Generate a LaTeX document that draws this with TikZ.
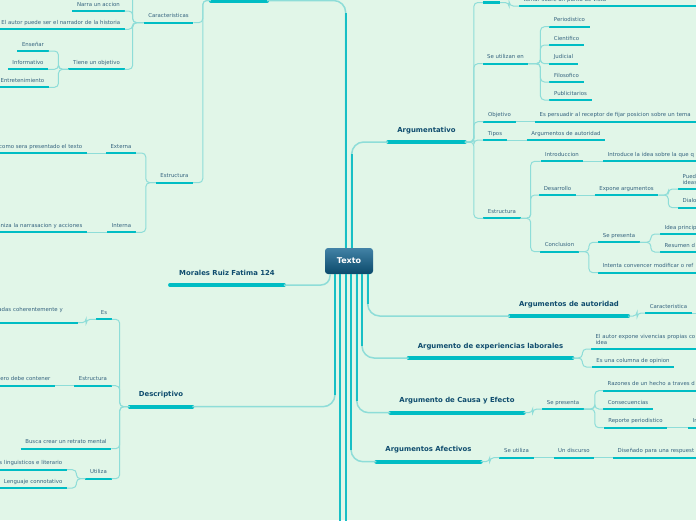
\documentclass[tikz,border=0pt]{standalone}
\usepackage{fontspec}
\setmainfont{DejaVu Sans}
\usetikzlibrary{positioning}
\definecolor{mapbg}{HTML}{E1F6E8}
\definecolor{barcol}{HTML}{00BDC4}
\definecolor{twigcol}{HTML}{8EDDD8}
\definecolor{trunkcol}{HTML}{17BFC5}
\definecolor{leaftxt}{HTML}{35637F}
\definecolor{topictxt}{HTML}{0F4C6E}
\definecolor{hubtop}{HTML}{4282A6}
\definecolor{hubbot}{HTML}{0B4A6B}

\begin{document}
\begin{tikzpicture}[x=1pt, y=-1pt,
    hub/.style={rounded corners=3pt, top color=hubtop, bottom color=hubbot, text=white, font=\fontsize{8}{9}\selectfont\bfseries, minimum width=48pt, minimum height=26pt, inner sep=0pt},
    mainbar/.style={barcol, line width=4pt, line cap=round},
    leafbar/.style={barcol, line width=2.2pt},
    topic/.style={font=\fontsize{6.9}{7.8}\selectfont\bfseries, text=topictxt, anchor=south, inner xsep=9pt, inner ysep=1pt, text height=5pt, text depth=8.8pt, append after command={(\tikzlastnode.south west) edge[mainbar] (\tikzlastnode.south east)}},
    leaf/.style={font=\fontsize{5.4}{6}\selectfont, text=leaftxt, anchor=south, inner xsep=4.5pt, inner ysep=1pt, text height=4pt, text depth=3.8pt, append after command={(\tikzlastnode.south west) edge[leafbar] (\tikzlastnode.south east)}},
    cutr/.style={leaf, anchor=south west, align=left, text width=200pt},
    cutl/.style={leaf, anchor=south east, align=right, text width=200pt},
    twig/.style={twigcol, line width=1pt, rounded corners=4pt},
    trunk/.style={trunkcol, line width=2pt},
    trunkbend/.style={twigcol, line width=1.5pt, rounded corners=12pt}
  ]
  \useasboundingbox (0,0) rectangle (696,520);
  \clip (0,0) rectangle (696,520);
  \fill[mapbg] (0,0) rectangle (696,520);

  \node[hub] (texto) at (349,261) {Texto};

  \node[topic, minimum width=56pt] (narr) at (239,0.5) {};
  \node[topic] (argu) at (426.5,142) {Argumentativo};
  \node[topic] (mor) at (227,285) {Morales Ruiz Fatima 124};
  \node[topic] (desc) at (161,406.7) {Descriptivo};
  \node[topic] (auth) at (569,316) {Argumentos de autoridad};
  \node[topic] (expl) at (490.5,358) {Argumento de experiencias laborales};
  \node[topic] (caus) at (457,412.7) {Argumento de Causa y Efecto};
  \node[topic] (afec) at (428.5,461.7) {Argumentos Afectivos};

  \node[leaf, minimum width=17pt] (pre) at (491.5,2.5) {};
  \node[cutr] (punto) at (519,6) {tomar sobre un punto de vista};
  \node[leaf] (usos) at (505.5,63.7) {Se utilizan en};
  \node[leaf] (perio) at (569.5,26.7) {Periodistico};
  \node[leaf] (cien) at (566.5,45) {Cientifico};
  \node[leaf] (judi) at (563.5,63.7) {Judicial};
  \node[leaf] (filo) at (566.5,82) {Filosofico};
  \node[leaf] (publi) at (570.5,100) {Publicitarios};
  \node[leaf] (obj) at (499.5,121.7) {Objetivo};
  \node[cutr] (persu) at (535,121.7) {Es persuadir al receptor de fijar posicion sobre un tema};
  \node[leaf] (tipos) at (495,140) {Tipos};
  \node[leaf] (tipa) at (566,140) {Argumentos de autoridad};
  \node[leaf] (estr) at (502,218.3) {Estructura};
  \node[leaf] (intro) at (562,161.3) {Introduccion};
  \node[cutr] (introc) at (603,161.3) {Introduce la idea sobre la que q};
  \node[leaf] (desa) at (557.5,195) {Desarrollo};
  \node[leaf] (expo) at (626.5,195) {Expone argumentos};
  \node[cutr, text depth=9.8pt] (pued) at (678,189) {Pued\\ideas};
  \node[cutr] (dialo) at (678,207.7) {Dialo};
  \node[leaf] (concl) at (559.5,251.7) {Conclusion};
  \node[leaf] (sepr) at (619,242.3) {Se presenta};
  \node[cutr] (idea) at (660,234) {Idea princip};
  \node[cutr] (resu) at (660,252) {Resumen d};
  \node[cutr] (inten) at (598,272.7) {Intenta convencer modificar o ref};

  \node[leaf] (cara) at (668.5,313) {Caracteristica};
  \coordinate (carax) at (700,313);
  \node[cutr, text depth=9.8pt] (vive) at (591,349) {El autor expone vivencias propias co\\idea};
  \node[leaf] (colu) at (633,367) {Es una columna de opinion};
  \node[leaf] (sepc) at (563,409) {Se presenta};
  \node[cutr] (razo) at (603,390.7) {Razones de un hecho a traves d};
  \node[leaf] (cons) at (628,409) {Consecuencias};
  \node[leaf] (repo) at (635.5,427.7) {Reporte periodistico};
  \node[cutr] (inre) at (688,427.7) {In};
  \node[leaf] (seut) at (516.5,457.7) {Se utiliza};
  \node[leaf] (disc) at (574,457.7) {Un discurso};
  \node[cutr] (dise) at (613,457.7) {Diseñado para una respuest};

  \node[leaf] (cars) at (168.5,22.7) {Caracteristicas};
  \coordinate (carup) at (125,-12);
  \node[leaf] (narra) at (98.5,11) {Narra un accion};
  \node[cutl] (narrad) at (125,29.3) {El autor puede ser el narrador de la historia};
  \node[leaf] (tien) at (96.5,69.3) {Tiene un objetivo};
  \node[leaf] (ense) at (33,51) {Enseñar};
  \node[leaf] (info) at (28,69.3) {Informativo};
  \node[cutl] (entr) at (49,87.3) {Entretenimiento};
  \node[leaf] (nestr) at (174.5,182.7) {Estructura};
  \node[leaf] (exte) at (121,153) {Externa};
  \node[cutl] (exted) at (87,153) {como sera presentado el texto};
  \node[leaf] (inte) at (121.5,232.3) {Interna};
  \node[cutl] (inted) at (87,232.3) {aniza la narrasacion y acciones};

  \node[leaf] (es) at (104,319.3) {Es};
  \node[cutl, text depth=10.3pt, inner xsep=15pt] (esd) at (78,322.7) {adas coherentemente y};
  \node[leaf] (destr) at (93,385.7) {Estructura};
  \node[cutl] (destd) at (55,385.7) {ero debe contener};
  \node[leaf] (busc) at (66,448.7) {Busca crear un retrato mental};
  \node[leaf] (util) at (98.5,478.7) {Utiliza};
  \node[cutl] (ling) at (67,469.7) {s linguisticos e literario};
  \node[cutl] (leng) at (67,488) {Lenguaje connotativo};

  \coordinate (s0) at ([xshift=-19pt]texto.south);
  \coordinate (s1) at ([xshift=-14pt]texto.south);
  \coordinate (s2) at ([xshift=-9pt]texto.south);
  \coordinate (s3) at ([xshift=-3.3pt]texto.south);
  \coordinate (s4) at ([xshift=2pt]texto.south);
  \coordinate (s5) at ([xshift=7.7pt]texto.south);
  \coordinate (s6) at ([xshift=13pt]texto.south);
  \coordinate (s7) at ([xshift=18.7pt]texto.south);
  \coordinate (n1) at ([xshift=-3.3pt]texto.north);
  \coordinate (n2) at ([xshift=2.7pt]texto.north);
  \coordinate (e2) at (340,530);
  \coordinate (e3) at (345.7,530);

  \draw[trunkbend] (n1) |- (narr.south east);
  \draw[trunk, shorten >=12pt] (n1) -- (n1 |- narr.south east);
  \draw[trunkbend] (n2) |- (argu.south west);
  \draw[trunk, shorten >=12pt] (n2) -- (n2 |- argu.south west);
  \draw[trunkbend, rounded corners=9pt] (s0) |- (mor.south east);
  \draw[trunkbend] (s1) |- (desc.south east);
  \draw[trunk, shorten >=12pt] (s1) -- (s1 |- desc.south east);
  \draw[trunk] (s2) -- (e2);
  \draw[trunk] (s3) -- (e3);
  \draw[trunkbend] (s4) |- (afec.south west);
  \draw[trunk, shorten >=12pt] (s4) -- (s4 |- afec.south west);
  \draw[trunkbend] (s5) |- (caus.south west);
  \draw[trunk, shorten >=12pt] (s5) -- (s5 |- caus.south west);
  \draw[trunkbend] (s6) |- (expl.south west);
  \draw[trunk, shorten >=12pt] (s6) -- (s6 |- expl.south west);
  \draw[trunkbend] (s7) |- (auth.south west);
  \draw[trunk, shorten >=12pt] (s7) -- (s7 |- auth.south west);

  \foreach \c in {pre,usos,obj,tipos,estr}
    \draw[twig] (argu.south east) -- ++(9,0) |- (\c.south west);
  \draw[twig] (pre.south east) -- ++(9,0) |- (punto.south west);
  \foreach \c in {perio,cien,judi,filo,publi}
    \draw[twig] (usos.south east) -- ++(12,0) |- (\c.south west);
  \draw[twig] (obj.south east) -- (persu.south west);
  \draw[twig] (tipos.south east) -- (tipa.south west);
  \foreach \c in {intro,desa,concl}
    \draw[twig] (estr.south east) -- ++(10,0) |- (\c.south west);
  \draw[twig] (intro.south east) -- (introc.south west);
  \draw[twig] (desa.south east) -- (expo.south west);
  \foreach \c in {pued,dialo}
    \draw[twig] (expo.south east) -- ++(10,0) |- (\c.south west);
  \foreach \c in {sepr,inten}
    \draw[twig] (concl.south east) -- ++(10,0) |- (\c.south west);
  \foreach \c in {idea,resu}
    \draw[twig] (sepr.south east) -- ++(11,0) |- (\c.south west);

  \draw[twig] (auth.south east) -- ++(9,0) |- (cara.south west);
  \draw[twig] (cara.south east) -- (carax);
  \foreach \c in {vive,colu}
    \draw[twig] (expl.south east) -- ++(10,0) |- (\c.south west);
  \draw[twig] (caus.south east) -- ++(9,0) |- (sepc.south west);
  \foreach \c in {razo,cons,repo}
    \draw[twig] (sepc.south east) -- ++(11,0) |- (\c.south west);
  \draw[twig] (repo.south east) -- (inre.south west);
  \draw[twig] (afec.south east) -- ++(9,0) |- (seut.south west);
  \draw[twig] (seut.south east) -- (disc.south west);
  \draw[twig] (disc.south east) -- (dise.south west);

  \foreach \c in {cars,nestr}
    \draw[twig] (narr.south west) -- ++(-8,0) |- (\c.south east);
  \draw[twig] (cars.south west) -- ++(-11,0) |- (carup);
  \foreach \c in {narra,narrad,tien}
    \draw[twig] (cars.south west) -- ++(-11,0) |- (\c.south east);
  \foreach \c in {ense,info,entr}
    \draw[twig] (tien.south west) -- ++(-10,0) |- (\c.south east);
  \foreach \c in {exte,inte}
    \draw[twig] (nestr.south west) -- ++(-10,0) |- (\c.south east);
  \draw[twig] (exte.south west) -- (exted.south east);
  \draw[twig] (inte.south west) -- (inted.south east);
  \foreach \c in {es,destr,busc,util}
    \draw[twig] (desc.south west) -- ++(-10,0) |- (\c.south east);
  \draw[twig] (es.south west) -- ++(-10,0) |- (esd.south east);
  \draw[twig] (destr.south west) -- (destd.south east);
  \foreach \c in {ling,leng}
    \draw[twig] (util.south west) -- ++(-9,0) |- (\c.south east);
\end{tikzpicture}
\end{document}
